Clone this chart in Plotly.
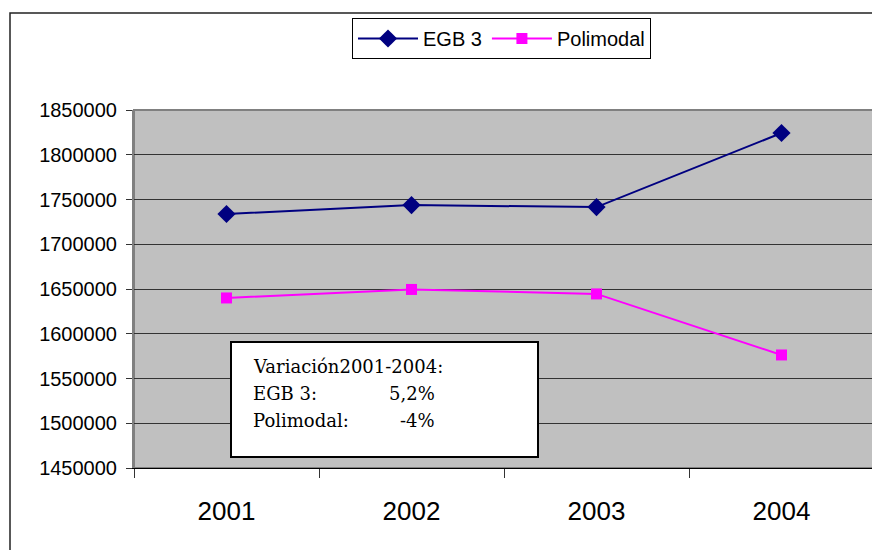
import plotly.graph_objects as go

years = ["2001", "2002", "2003", "2004"]
egb3 = [1733800, 1743800, 1741500, 1824300]
polimodal = [1640000, 1649500, 1644500, 1576300]

note_title = "Variación2001-2004:"
note_labels = ["EGB 3:", "Polimodal:"]
note_values = ["5,2%", "-4%"]

# page body has an 8px default margin; compensate
OFF = 8
W, H = 880 - OFF, 550 - OFF
# plot area in screen pixels: x 134..874, y 110..468
SL, SR, ST, SB = 134, 874, 110, 468
L, R, T, B = SL - OFF, 880 - SR, ST - OFF, 550 - SB
pw, ph = SR - SL, SB - ST

def px(x):
    return (x - SL) / pw

def py(y):
    return (SB - y) / ph

fig = go.Figure()
fig.add_trace(go.Scatter(
    x=years, y=egb3, name="EGB 3", mode="lines+markers",
    line=dict(color="#000080", width=2),
    marker=dict(symbol="diamond", size=14, color="#000080"),
))
fig.add_trace(go.Scatter(
    x=years, y=polimodal, name="Polimodal", mode="lines+markers",
    line=dict(color="#FF00FF", width=2),
    marker=dict(symbol="square", size=11, color="#FF00FF"),
))

# outer frame
fig.add_shape(type="rect", xref="paper", yref="paper",
              x0=px(10), x1=px(900), y0=py(580), y1=py(13),
              line=dict(color="#222222", width=1.5), fillcolor="rgba(0,0,0,0)", layer="below")
# text box
fig.add_shape(type="rect", xref="paper", yref="paper",
              x0=px(231), x1=px(538), y0=py(457), y1=py(342),
              line=dict(color="black", width=2), fillcolor="white", layer="above")

serif = dict(family="DejaVu Serif", size=18, color="black")
fig.add_annotation(xref="paper", yref="paper", x=px(251), y=py(366), text=note_title,
                   showarrow=False, xanchor="left", yanchor="middle", font=serif)
for i, (lab, val) in enumerate(zip(note_labels, note_values)):
    yy = py(393 + i * 27)
    fig.add_annotation(xref="paper", yref="paper", x=px(251), y=yy, text=lab,
                       showarrow=False, xanchor="left", yanchor="middle", font=serif)
    fig.add_annotation(xref="paper", yref="paper", x=px(437), y=yy, text=val,
                       showarrow=False, xanchor="right", yanchor="middle", font=serif)

fig.update_layout(
    width=W, height=H,
    margin=dict(l=L, r=R, t=T, b=B),
    paper_bgcolor="white",
    plot_bgcolor="#C0C0C0",
    font=dict(family="Liberation Sans", color="black"),
    showlegend=True,
    legend=dict(
        orientation="h", x=px(352), y=py(18), xanchor="left", yanchor="top",
        bgcolor="white", bordercolor="black", borderwidth=1,
        font=dict(family="Liberation Sans", size=20, color="black"),
        itemwidth=60,
    ),
    xaxis=dict(
        type="category", range=[-0.5, 3.5], tickson="boundaries",
        ticks="outside", ticklen=9, tickcolor="#333333",
        showline=True, linecolor="black", linewidth=1, mirror=False,
        showgrid=False, tickfont=dict(size=26, color="black"),
        ticklabelstandoff=20,
    ),
    yaxis=dict(
        range=[1450000, 1850000], dtick=50000, tickformat="d",
        ticks="outside", ticklen=6, tickcolor="#333333",
        showline=True, linecolor="#808080", linewidth=2,
        showgrid=True, gridcolor="#333333", gridwidth=1,
        tickfont=dict(size=20, color="black"),
        ticklabelstandoff=5,
        zeroline=False,
    ),
)
# plot border top/right
fig.add_shape(type="rect", xref="paper", yref="paper", x0=0, x1=1, y0=0, y1=1,
              line=dict(color="#808080", width=2), fillcolor="rgba(0,0,0,0)", layer="below")

fig.write_html("out.html")
